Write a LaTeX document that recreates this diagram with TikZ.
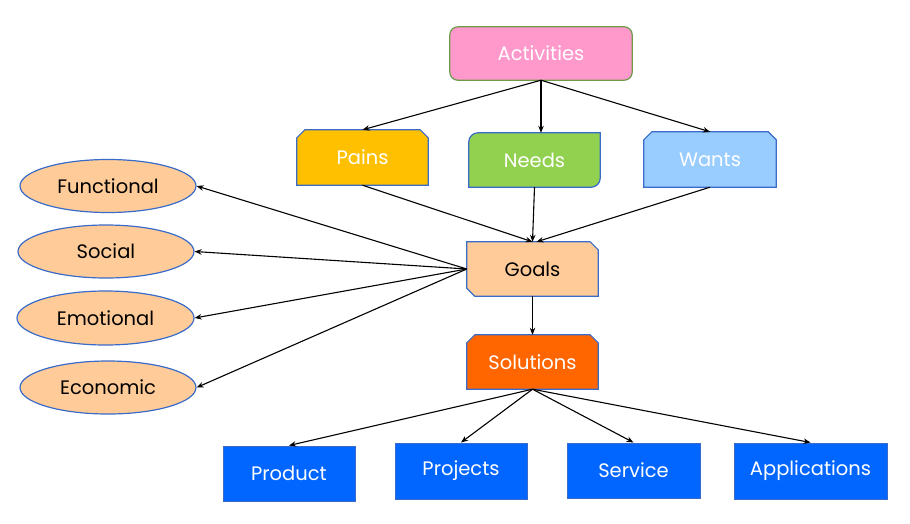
\documentclass[tikz,border=0pt]{standalone}
\usepackage{fontspec}
\setmainfont{Poppins}
\usetikzlibrary{arrows.meta,backgrounds,shapes.geometric}
\definecolor{actfill}{HTML}{FF99CC}
\definecolor{actline}{HTML}{6E9A4A}
\definecolor{painfill}{HTML}{FFC000}
\definecolor{needfill}{HTML}{92D050}
\definecolor{wantfill}{HTML}{99CCFF}
\definecolor{goalfill}{HTML}{FFCC99}
\definecolor{solfill}{HTML}{FF6600}
\definecolor{boxfill}{HTML}{0066FF}
\definecolor{bline}{HTML}{3A6BC9}
\tikzset{
  txt/.style={font=\fontsize{19.5}{22}\selectfont, inner sep=0pt, text=white},
  dark/.style={text=black},
  oval/.style={ellipse, draw=bline, fill=goalfill, line width=1.2pt, inner sep=0pt, font=\fontsize{19.5}{22}\selectfont},
  bbox/.style={rectangle, draw=bline, fill=boxfill, line width=1pt, inner sep=0pt, font=\fontsize{19.5}{22}\selectfont, text=white},
  shapeline/.style={draw=bline, line width=1.2pt},
  arr/.style={-{Stealth[length=7pt,width=5.5pt]}, line width=1.1pt, black}
}
\begin{document}
\begin{tikzpicture}[x=1pt,y=-1pt]
\useasboundingbox (0,0) rectangle (910,523);
% main nodes (text only; shapes drawn on background layer)
\node[txt, minimum width=182pt, minimum height=53pt] (act) at (541,53.5) {Activities};
\node[txt, minimum width=131pt, minimum height=55pt] (pains) at (362.5,157.5) {Pains};
\node[txt, minimum width=131pt, minimum height=54pt] (needs) at (534.5,160) {Needs};
\node[txt, minimum width=132pt, minimum height=55pt] (wants) at (710,159.5) {Wants};
\node[txt, dark, minimum width=131pt, minimum height=54pt] (goals) at (532.5,269) {Goals};
\node[txt, minimum width=131pt, minimum height=54pt] (sol) at (532.5,362) {Solutions};
\begin{scope}[on background layer]
  \draw[fill=actfill, draw=actline, line width=1.2pt, rounded corners=8pt]
    (act.south west) rectangle (act.north east);
  % Pains: top corners snipped
  \draw[fill=painfill, shapeline]
    (pains.south west) -- ([yshift=-8pt]pains.north west) -- ([xshift=8pt]pains.north west)
    -- ([xshift=-8pt]pains.north east) -- ([yshift=-8pt]pains.north east) -- (pains.south east) -- cycle;
  % Needs: rounded NW and SE
  \draw[fill=needfill, shapeline]
    (needs.west) [rounded corners=9pt] -- (needs.north west) -- (needs.north) [sharp corners]
    -- (needs.north east) -- (needs.east) [rounded corners=9pt] -- (needs.south east) -- (needs.south)
    [sharp corners] -- (needs.south west) -- cycle;
  % Wants: top corners snipped
  \draw[fill=wantfill, shapeline]
    (wants.south west) -- ([yshift=-8pt]wants.north west) -- ([xshift=8pt]wants.north west)
    -- ([xshift=-8pt]wants.north east) -- ([yshift=-8pt]wants.north east) -- (wants.south east) -- cycle;
  % Goals: NE and SW snipped
  \draw[fill=goalfill, shapeline]
    (goals.north west) -- ([xshift=-8pt]goals.north east) -- ([yshift=-8pt]goals.north east)
    -- (goals.south east) -- ([xshift=8pt]goals.south west) -- ([yshift=8pt]goals.south west) -- cycle;
  % Solutions: top corners snipped
  \draw[fill=solfill, shapeline]
    (sol.south west) -- ([yshift=-8pt]sol.north west) -- ([xshift=8pt]sol.north west)
    -- ([xshift=-8pt]sol.north east) -- ([yshift=-8pt]sol.north east) -- (sol.south east) -- cycle;
\end{scope}
% ellipses
\node[oval, minimum width=176pt, minimum height=53pt] (fun) at (108,186) {Functional};
\node[oval, minimum width=176pt, minimum height=53pt] (soc) at (106,251.5) {Social};
\node[oval, minimum width=177pt, minimum height=54pt] (emo) at (105.5,318) {Emotional};
\node[oval, minimum width=176pt, minimum height=53pt] (eco) at (108,387.5) {Economic};
% bottom boxes
\node[bbox, minimum width=132pt, minimum height=55pt] (prod) at (289,473.5) {Product};
\node[bbox, minimum width=132pt, minimum height=56pt] (proj) at (461,471) {Projects};
\node[bbox, minimum width=133pt, minimum height=55pt] (serv) at (633.5,470.5) {Service};
\node[bbox, minimum width=153pt, minimum height=56pt] (app) at (810.5,471) {Applications};
% connectors
\draw[arr] (act.south) -- (pains.north);
\draw[arr] (act.south) -- (needs.north -| act.south);
\draw[arr] (act.south) -- (wants.north);
\draw[arr] (pains.south) -- (goals.north);
\draw[arr] (needs.south) -- (goals.north);
\draw[arr] (wants.south) -- ([xshift=4pt]goals.north);
\draw[arr] (goals.west) -- (fun.east);
\draw[arr] (goals.west) -- (soc.east);
\draw[arr] (goals.west) -- (emo.east);
\draw[arr] (goals.west) -- (eco.east);
\draw[arr] (goals.south) -- (sol.north);
\draw[arr] (sol.south) -- (prod.north);
\draw[arr] (sol.south) -- (proj.north);
\draw[arr] (sol.south) -- (serv.north);
\draw[arr] (sol.south) -- (app.north);
\end{tikzpicture}
\end{document}
